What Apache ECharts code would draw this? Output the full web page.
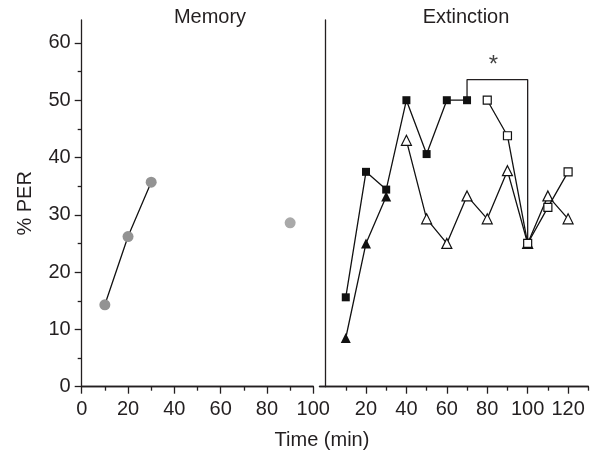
<!DOCTYPE html>
<html>
<head>
<meta charset="utf-8">
<script src="https://cdn.jsdelivr.net/npm/echarts@6/dist/echarts.min.js"></script>
<style>html,body{margin:0;padding:0;background:#fff}#c{width:592px;height:450px}</style>
</head>
<body>
<div id="c"></div>
<script>
// ---- data ----
const memoryLineX = [10, 20, 30];
const memoryLineY = [14.3, 26.2, 35.7];
const memoryLoneX = [90];
const memoryLoneY = [28.6];

const filledSquareX = [10, 20, 30, 40, 50, 60, 70];
const filledSquareY = [15.6, 37.5, 34.4, 50.0, 40.6, 50.0, 50.0];
const openSquareX = [80, 90, 100, 110, 120];
const openSquareY = [50.0, 43.8, 25.0, 31.3, 37.5];
const filledTriX = [10, 20, 30];
const filledTriY = [8.5, 25.0, 33.2];
const openTriX = [40, 50, 60, 70, 80, 90, 100, 110, 120];
const openTriY = [43.0, 29.3, 25.0, 33.3, 29.3, 37.7, 25.0, 33.3, 29.3];

const bracketX = [70, 70, 100, 100];
const bracketY = [50.0, 53.6, 53.6, 25.0];
const starX = [83];
const starY = [56.0];

const yMajorTicks = [0, 10, 20, 30, 40, 50, 60];
const yMinorTicks = [5, 15, 25, 35, 45, 55];
const leftXMajor = [0, 20, 40, 60, 80, 100];
const leftXMinor = [10, 30, 50, 70, 90];
const rightXMajor = [20, 40, 60, 80, 100, 120];
const rightXMinor = [10, 30, 50, 70, 90, 110, 130];

const zip = (xs, ys) => xs.map((x, i) => [x, ys[i]]);

const FONT = 'Liberation Sans, Arial, Helvetica, sans-serif';
const TXT = '#231f20';
const LINE = {color: '#231f20', width: 1.3};

function xAxisDef(gridIndex, min, max, ticks, len, labels) {
  return {
    type: 'value', gridIndex, min, max, position: 'bottom',
    axisLine: {show: true, onZero: false, lineStyle: LINE},
    axisTick: {show: true, length: len, lineStyle: LINE, customValues: ticks},
    axisLabel: labels ? {show: true, customValues: ticks, fontSize: 20, color: TXT, fontFamily: FONT, margin: 13} : {show: false},
    splitLine: {show: false}
  };
}

const option = {
  animation: false,
  backgroundColor: '#fff',
  title: [
    {text: 'Memory', left: 205, top: 2, textAlign: 'center', textStyle: {fontSize: 20, fontWeight: 'normal', color: TXT, fontFamily: FONT}},
    {text: 'Extinction', left: 461, top: 2, textAlign: 'center', textStyle: {fontSize: 20, fontWeight: 'normal', color: TXT, fontFamily: FONT}},
    {text: 'Time (min)', left: 317, top: 425, textAlign: 'center', textStyle: {fontSize: 20, fontWeight: 'normal', color: TXT, fontFamily: FONT}}
  ],
  grid: [
    {left: 81.7, top: 20, width: 231.6, bottom: 63.3, containLabel: false},
    {left: 319.5, top: 20, right: 3.7, bottom: 63.3, containLabel: false}
  ],
  xAxis: [
    xAxisDef(0, 0, 100, leftXMajor, 7, true),
    xAxisDef(0, 0, 100, leftXMinor, 4, false),
    xAxisDef(1, -3, 130, rightXMajor, 7, true),
    xAxisDef(1, -3, 130, rightXMinor, 4, false)
  ],
  yAxis: [
    {
      type: 'value', gridIndex: 0, min: 0, max: 64, position: 'left',
      name: '% PER', nameLocation: 'middle', nameGap: 46,
      nameTextStyle: {fontSize: 20, color: TXT, fontFamily: FONT},
      axisLine: {show: true, onZero: false, lineStyle: LINE},
      axisTick: {show: true, length: 7, lineStyle: LINE, customValues: yMajorTicks},
      axisLabel: {show: true, customValues: yMajorTicks, fontSize: 20, color: TXT, fontFamily: FONT, margin: 11},
      splitLine: {show: false}
    },
    {
      type: 'value', gridIndex: 0, min: 0, max: 64, position: 'left',
      axisLine: {show: false},
      axisTick: {show: true, length: 4, lineStyle: LINE, customValues: yMinorTicks},
      axisLabel: {show: false},
      splitLine: {show: false}
    },
    {
      type: 'value', gridIndex: 1, min: 0, max: 64,
      axisLine: {show: true, onZero: true, lineStyle: LINE},
      axisTick: {show: false},
      axisLabel: {show: false},
      splitLine: {show: false}
    }
  ],
  series: [
    {
      type: 'line', xAxisIndex: 0, yAxisIndex: 0, data: zip(memoryLineX, memoryLineY),
      symbol: 'circle', symbolSize: 11,
      itemStyle: {color: '#939393'}, lineStyle: {color: '#111', width: 1.3}, z: 3
    },
    {
      type: 'scatter', xAxisIndex: 0, yAxisIndex: 0, data: zip(memoryLoneX, memoryLoneY),
      symbol: 'circle', symbolSize: 11, itemStyle: {color: '#939393'}
    },
    {
      type: 'line', xAxisIndex: 2, yAxisIndex: 2, data: zip(bracketX, bracketY),
      symbol: 'none', lineStyle: {color: '#231f20', width: 1.3}, z: 1
    },
    {
      type: 'scatter', xAxisIndex: 2, yAxisIndex: 2, data: zip(starX, starY),
      symbolSize: 0,
      label: {show: true, position: 'inside', formatter: '*', fontSize: 24, color: '#111', fontFamily: FONT}
    },
    {
      type: 'line', xAxisIndex: 2, yAxisIndex: 2, data: zip(openTriX, openTriY),
      symbol: 'triangle', symbolSize: 10,
      itemStyle: {color: '#fff', borderColor: '#111', borderWidth: 1.2},
      lineStyle: {color: '#111', width: 1.3}, z: 2
    },
    {
      type: 'line', xAxisIndex: 2, yAxisIndex: 2, data: zip(openSquareX, openSquareY),
      symbol: 'rect', symbolSize: 8,
      itemStyle: {color: '#fff', borderColor: '#111', borderWidth: 1.2},
      lineStyle: {color: '#111', width: 1.3}, z: 3
    },
    {
      type: 'line', xAxisIndex: 2, yAxisIndex: 2, data: zip(filledTriX, filledTriY),
      symbol: 'triangle', symbolSize: 10,
      itemStyle: {color: '#111'},
      lineStyle: {color: '#111', width: 1.3}, z: 3
    },
    {
      type: 'line', xAxisIndex: 2, yAxisIndex: 2, data: zip(filledSquareX, filledSquareY),
      symbol: 'rect', symbolSize: 8,
      itemStyle: {color: '#111'},
      lineStyle: {color: '#111', width: 1.3}, z: 4
    }
  ]
};

const chart = echarts.init(document.getElementById('c'), null, {renderer: 'canvas'});
chart.setOption(option);
</script>
</body>
</html>
